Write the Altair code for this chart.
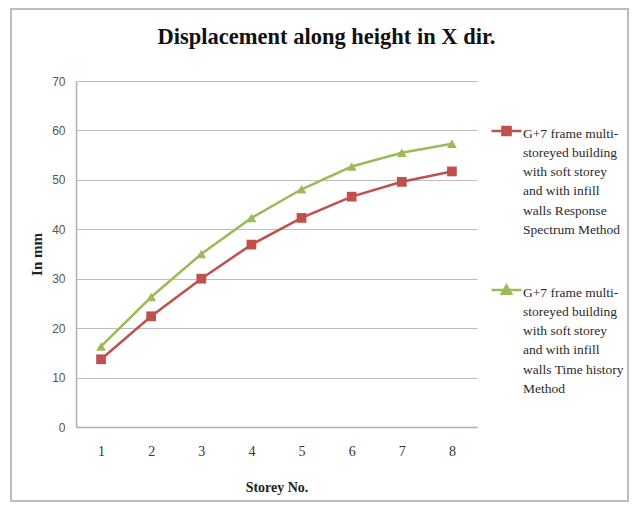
import altair as alt
import pandas as pd

# ---- data ----
storeys = [1, 2, 3, 4, 5, 6, 7, 8]
response_spectrum = [13.7, 22.4, 30.0, 36.9, 42.3, 46.6, 49.6, 51.7]
time_history = [16.3, 26.3, 35.0, 42.3, 48.1, 52.7, 55.5, 57.3]
series_names = [
    "G+7 frame multi-\nstoreyed building\nwith soft storey\nand with infill\nwalls Response\nSpectrum Method",
    "G+7 frame multi-\nstoreyed building\nwith soft storey\nand with infill\nwalls Time history\nMethod",
]
series_colors = ["#c0504d", "#9bbb59"]
marker_shapes = ["square", "triangle-up"]
legend_shapes = [
    "M-1,0.3H1M-0.27,0.03H0.27V0.57H-0.27Z",
    "M-1,0.3H1M0,0L0.31,0.55H-0.31Z",
]
y_ticks = [0, 10, 20, 30, 40, 50, 60, 70]

rows = []
for name, vals in zip(series_names, [response_spectrum, time_history]):
    for s, v in zip(storeys, vals):
        rows.append({"storey": s, "mm": v, "series": name})
df = pd.DataFrame(rows)

color_scale = alt.Scale(domain=series_names, range=series_colors)

base = alt.Chart(df).encode(
    x=alt.X(
        "storey:O",
        scale=alt.Scale(type="point", padding=0.5),
        axis=alt.Axis(
            title="Storey No.", labelAngle=0, ticks=False, grid=False,
            labelFont="Liberation Serif", labelFontSize=14, labelColor="#333333",
            labelPadding=17, titlePadding=22,
        ),
    ),
    y=alt.Y(
        "mm:Q",
        scale=alt.Scale(domain=[0, 70]),
        axis=alt.Axis(
            title="In mm", values=y_ticks, ticks=False, grid=True,
            labelFont="Liberation Sans", labelFontSize=12, labelColor="#555555",
            labelPadding=11, titlePadding=7,
        ),
    ),
)

series_layers = []
for name, col, shp in zip(series_names, series_colors, marker_shapes):
    sub = base.transform_filter(alt.datum.series == name)
    series_layers.append(sub.mark_line(strokeWidth=2.5, color=col))
    series_layers.append(
        sub.mark_point(shape=shp, filled=True, size=95, color=col, opacity=1)
    )

legend_def = dict(
    orient="none", legendX=414, legendY=29, padding=0, title=None,
    symbolSize=900, symbolStrokeWidth=2.5, symbolOpacity=1,
    labelFont="Liberation Serif", labelFontSize=13.5, labelColor="#2a2a2a",
    labelLimit=0, labelOffset=0, labelBaseline="top", rowPadding=32,
)

legend_layer = base.mark_point(filled=True, opacity=0, size=900).encode(
    color=alt.Color("series:N", scale=color_scale, legend=alt.Legend(**legend_def)),
    stroke=alt.Stroke("series:N", scale=color_scale, legend=alt.Legend(**legend_def)),
    shape=alt.Shape("series:N", scale=alt.Scale(domain=series_names, range=legend_shapes),
                    legend=alt.Legend(**legend_def)),
)

frame = alt.Chart(df).mark_rect(filled=False, stroke="#bdbdbd", strokeWidth=1.5, clip=False).encode(
    x=alt.value(-65), x2=alt.value(552), y=alt.value(-72), y2=alt.value(420)
)

chart = alt.layer(frame, *series_layers, legend_layer).properties(
    width=401,
    height=346,
    autosize=alt.AutoSizeParams(type="none"),
    padding={"left": 68, "top": 73, "right": 152, "bottom": 75},
    title=alt.TitleParams(
        "Displacement along height in X dir.",
        font="Liberation Serif", fontSize=22.5, fontWeight="bold", color="#111111",
        anchor="middle", frame="group", dx=50, offset=-40,
    ),
).configure(
    style={"guide-label": {"lineHeight": 19.3, "lineBreak": "\n"}}
).configure_view(stroke=None).configure_axis(
    domainColor="#b0b0b0", domainWidth=1.5, gridColor="#bdbdbd", gridWidth=1,
    titleFont="Liberation Serif", titleFontSize=14, titleFontWeight="bold", titleColor="#222222",
).configure_axisY(titleAngle=-90, titleFontSize=15)

chart.save("out.html", embed_options={"renderer": "svg", "actions": False})
